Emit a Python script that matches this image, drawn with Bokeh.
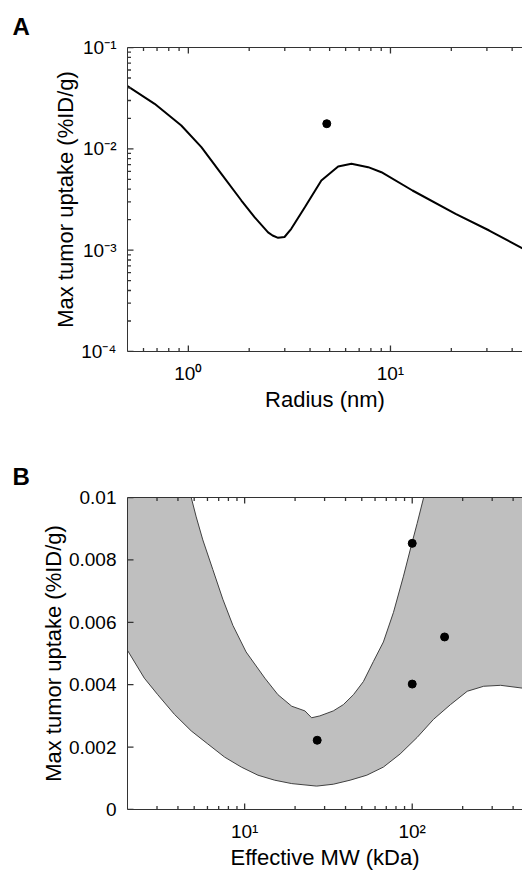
import math
from bokeh.plotting import figure
from bokeh.layouts import column
from bokeh.models import FixedTicker, LogAxis, Range1d, CustomJSTickFormatter
from bokeh.embed import file_html
from bokeh.resources import INLINE

# ---------------- data: panel A ----------------
radius_nm = [0.5, 0.681, 0.923, 1.16, 1.457, 1.83, 2.13, 2.48, 2.61, 2.78, 2.99, 3.23,
             3.77, 4.55, 5.51, 6.41, 7.76, 9.02, 12.85, 21.0, 30.8, 45.5]
uptake_a = [0.0415, 0.0278, 0.0170, 0.01038, 0.00567, 0.00309, 0.00211, 0.00150, 0.001396,
            0.001324, 0.001349, 0.001626, 0.002655, 0.00487, 0.00670, 0.00712, 0.00659,
            0.00588, 0.00388, 0.002286, 0.001563, 0.00103]
meas_radius = [4.84]
meas_uptake_a = [0.0177]

a_xticks = [1.0, 10.0]
a_xlabels = ["10\u2070", "10\u00b9"]
a_yticks = [0.0001, 0.001, 0.01, 0.1]
a_ylabels = ["10\u207b\u2074", "10\u207b\u00b3", "10\u207b\u00b2", "10\u207b\u00b9"]

# ---------------- data: panel B ----------------
lower_mw = [2.0, 2.52, 3.03, 3.81, 4.80, 6.03, 7.59, 9.55, 12.0, 15.1, 19.1, 26.9, 33.8,
            42.6, 53.6, 67.3, 84.7, 107, 134, 169, 213, 267, 337, 455]
lower_uptake = [0.00510, 0.00421, 0.00368, 0.00305, 0.00252, 0.00210, 0.00168, 0.00136,
                0.00110, 0.00094, 0.00083, 0.00075, 0.00081, 0.00094, 0.00110, 0.00136,
                0.00178, 0.00231, 0.00289, 0.00336, 0.00379, 0.00395, 0.00398, 0.00389]
upper_mw = [2.0, 4.80, 5.14, 5.63, 6.46, 7.41, 8.51, 10.2, 13.2, 15.8, 19.1, 22.9, 25.1,
            28.1, 33.8, 38.8, 44.6, 51.1, 58.6, 67.3, 77.3, 88.7, 99.5, 107, 117, 455]
upper_uptake = [0.0100, 0.0100, 0.00938, 0.00864, 0.00769, 0.00674, 0.00590, 0.00505,
                0.00421, 0.00368, 0.00331, 0.00316, 0.00294, 0.00300, 0.00316, 0.00336,
                0.00368, 0.00410, 0.00474, 0.00537, 0.00632, 0.00748, 0.00853, 0.00917,
                0.0100, 0.0100]
meas_mw = [27.1, 100, 100, 156]
meas_uptake_b = [0.00222, 0.00402, 0.00853, 0.00553]

b_xticks = [10.0, 100.0]
b_xlabels = ["10\u00b9", "10\u00b2"]
b_yticks = [0.0, 0.002, 0.004, 0.006, 0.008, 0.01]
b_ylabels = ["0", "0.002", "0.004", "0.006", "0.008", "0.01"]

FONT = "Liberation Sans"
AX = "#333333"


def minor_log(lo, hi):
    out = []
    for k in range(-6, 4):
        for m in range(2, 10):
            v = m * 10.0 ** k
            if lo < v < hi:
                out.append(v)
    return out


def style_axis(ax):
    ax.axis_line_color = AX
    ax.axis_line_width = 1
    ax.major_tick_in = 0
    ax.major_tick_out = 0
    ax.minor_tick_in = 0
    ax.minor_tick_out = 0
    ax.major_tick_line_color = None
    ax.minor_tick_line_color = None
    ax.major_label_text_font = FONT
    ax.major_label_text_font_size = "19px"
    ax.major_label_text_color = "black"
    ax.major_label_standoff = 11
    ax.axis_label_text_font = FONT
    ax.axis_label_text_font_size = "22px"
    ax.axis_label_text_font_style = "normal"
    ax.axis_label_text_color = "black"
    ax.axis_label_standoff = 0


def style_title(p, txt):
    p.title.text = txt
    p.title.text_font = FONT
    p.title.text_font_size = "24px"
    p.title.text_font_style = "bold"
    p.title.text_color = "black"
    p.title.align = "left"
    p.title.vertical_align = "top"
    p.title.offset = -115
    p.title.standoff = 11


def empty_top(p, ticker):
    ax = LogAxis(ticker=ticker)
    style_axis(ax)
    ax.formatter = CustomJSTickFormatter(code="return ''")
    ax.major_label_standoff = 0
    ax.major_label_text_font_size = "1px"
    p.add_layout(ax, "above")


def edge_ticks(p, xmajor, xminor, ymajor, yminor, xlo, ylo, yhi):
    # inward-pointing tick marks: markers centred on the frame edge, outer half clipped
    kw = dict(line_color=AX, line_width=1.3)
    for yedge in (ylo, yhi):
        p.scatter(xmajor, [yedge] * len(xmajor), marker="dash", angle=math.pi / 2, size=12, **kw)
        if xminor:
            p.scatter(xminor, [yedge] * len(xminor), marker="dash", angle=math.pi / 2, size=7, **kw)
    p.scatter([xlo] * len(ymajor), ymajor, marker="dash", size=12, **kw)
    if yminor:
        p.scatter([xlo] * len(yminor), yminor, marker="dash", size=7, **kw)


# ---------------- panel A ----------------
xlo_a, xhi_a = 0.5, 45.0
ylo_a, yhi_a = 1e-4, 1e-1
pa = figure(width=522, height=424, x_axis_type="log", y_axis_type="log",
            x_range=Range1d(xlo_a, xhi_a), y_range=Range1d(ylo_a, yhi_a),
            output_backend="svg", toolbar_location=None,
            min_border_left=127, min_border_right=0, min_border_top=47, min_border_bottom=73)
pa.outline_line_color = None
pa.xgrid.visible = False
pa.ygrid.visible = False
style_title(pa, "A")

pa.xaxis.ticker = FixedTicker(ticks=a_xticks, minor_ticks=[])
pa.yaxis.ticker = FixedTicker(ticks=a_yticks, minor_ticks=[])
pa.xaxis.major_label_overrides = dict(zip(a_xticks, a_xlabels))
pa.yaxis.major_label_overrides = dict(zip(a_yticks, a_ylabels))
pa.xaxis.axis_label = "Radius (nm)"
pa.yaxis.axis_label = "Max tumor uptake (%ID/g)"
for ax in list(pa.xaxis) + list(pa.yaxis):
    style_axis(ax)
empty_top(pa, FixedTicker(ticks=a_xticks, minor_ticks=[]))

pa.line(radius_nm, uptake_a, line_color="black", line_width=2)
pa.scatter(meas_radius, meas_uptake_a, size=8, fill_color="black", line_color="black")
edge_ticks(pa, a_xticks, minor_log(xlo_a, xhi_a), a_yticks, minor_log(ylo_a, yhi_a),
           xlo_a, ylo_a, yhi_a)

# ---------------- panel B ----------------
xlo_b, xhi_b = 2.0, 455.0
ylo_b, yhi_b = 0.0, 0.01
pb = figure(width=522, height=448, x_axis_type="log",
            x_range=Range1d(xlo_b, xhi_b), y_range=Range1d(ylo_b, yhi_b),
            output_backend="svg", toolbar_location=None,
            min_border_left=127, min_border_right=0, min_border_top=73, min_border_bottom=60)
pb.outline_line_color = None
pb.xgrid.visible = False
pb.ygrid.visible = False
style_title(pb, "B")

pb.xaxis.ticker = FixedTicker(ticks=b_xticks, minor_ticks=[])
pb.yaxis.ticker = FixedTicker(ticks=b_yticks, minor_ticks=[])
pb.xaxis.major_label_overrides = dict(zip(b_xticks, b_xlabels))
pb.yaxis.major_label_overrides = dict(zip(b_yticks, b_ylabels))
pb.xaxis.axis_label = "Effective MW (kDa)"
pb.yaxis.axis_label = "Max tumor uptake (%ID/g)"
for ax in list(pb.xaxis) + list(pb.yaxis):
    style_axis(ax)
empty_top(pb, FixedTicker(ticks=b_xticks, minor_ticks=[]))

band_x = lower_mw + upper_mw[::-1]
band_y = lower_uptake + upper_uptake[::-1]
pb.patch(band_x, band_y, fill_color="#bfbfbf", line_color=None)
pb.line(lower_mw, lower_uptake, line_color="#404040", line_width=1)
pb.line(upper_mw[1:-1], upper_uptake[1:-1], line_color="#404040", line_width=1)
pb.scatter(meas_mw, meas_uptake_b, size=8, fill_color="black", line_color="black")
edge_ticks(pb, b_xticks, minor_log(xlo_b, xhi_b), b_yticks, [], xlo_b, ylo_b, yhi_b)

layout = column(pa, pb, spacing=0)
open("out.html", "w").write(file_html(layout, INLINE))
